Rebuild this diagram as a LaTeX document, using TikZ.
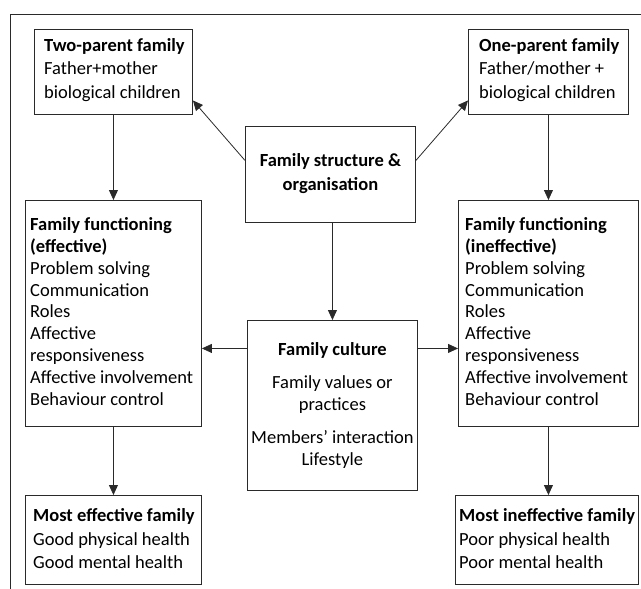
\documentclass[tikz,border=0pt]{standalone}
\usepackage{fontspec}
\setmainfont{Carlito}
\usetikzlibrary{arrows.meta}
\definecolor{ln}{HTML}{2A2A2A}
\tikzset{
  box/.style={draw=ln, line width=0.9pt, rectangle, inner sep=0pt, anchor=north west},
  txt/.style={inner sep=0pt, align=left, font=\fontsize{18.5}{23.5}\selectfont, text=black},
  txtc/.style={inner sep=0pt, align=center, font=\fontsize{18.5}{23.5}\selectfont, text=black},
  arr/.style={draw=ln, line width=0.8pt, -{Triangle[length=10pt,width=9pt]}},
}
\begin{document}
\begin{tikzpicture}[x=1pt,y=-1pt]
\useasboundingbox (0,0) rectangle (641,589);
% frame
\coordinate (f1) at (10,589);
\coordinate (f2) at (10,14);
\coordinate (f3) at (641,14);
\draw[ln, line width=0.8pt] (f1) -- (f2) -- (f3);
% boxes
\node[box, minimum width=158pt, minimum height=85pt] (tp) at (34,29) {};
\node[box, minimum width=160pt, minimum height=85pt] (op) at (468,29) {};
\node[box, minimum width=170pt, minimum height=96pt] (fs) at (245,126) {};
\node[box, minimum width=176pt, minimum height=226pt] (lf) at (25,200) {};
\node[box, minimum width=180pt, minimum height=226pt] (rf) at (458,200) {};
\node[box, minimum width=170pt, minimum height=170pt] (fc) at (247,320) {};
\node[box, minimum width=176pt, minimum height=89pt] (bl) at (25,495) {};
\node[box, minimum width=183pt, minimum height=89pt] (br) at (455,495) {};
% texts
\node[txt, anchor=west] (tpt) at ([xshift=10pt,yshift=2pt]tp.west) {\textbf{Two-parent family}\\Father+mother\\biological children};
\node[txt, anchor=west] (opt) at ([xshift=11pt,yshift=2pt]op.west) {\textbf{One-parent family}\\Father/mother +\\biological children};
\node[txtc] (fst) at ([yshift=1pt]fs.center) {\textbf{Family structure \&}\\\textbf{organisation}};
\node[txt, anchor=west, font=\fontsize{18.5}{21.8}\selectfont] (lft) at ([xshift=5pt,yshift=2pt]lf.west) {\textbf{Family functioning}\\\textbf{(effective)}\\Problem solving\\Communication\\Roles\\Affective\\responsiveness\\Affective involvement\\Behaviour control};
\node[txt, anchor=west, font=\fontsize{18.5}{21.8}\selectfont] (rft) at ([xshift=7pt,yshift=2pt]rf.west) {\textbf{Family functioning}\\\textbf{(ineffective)}\\Problem solving\\Communication\\Roles\\Affective\\responsiveness\\Affective involvement\\Behaviour control};
\node[txtc, font=\fontsize{18.5}{22}\selectfont] (fct) at (fc.center) {\textbf{Family culture}\\[11pt]Family values or\\practices\\[11pt]Members’ interaction\\Lifestyle};
\node[txt, anchor=west] (blt) at ([xshift=8pt,yshift=1pt]bl.west) {\textbf{Most effective family}\\Good physical health\\Good mental health};
\node[txt, anchor=west] (brt) at ([xshift=4pt,yshift=1pt]br.west) {\textbf{Most ineffective family}\\Poor physical health\\Poor mental health};
% arrows
\draw[arr] ([yshift=14pt]fs.west) -- ([yshift=-28.5pt]tp.east);
\draw[arr] ([yshift=14pt]fs.east) -- ([yshift=-28.5pt]op.west);
\draw[arr] (tp.south) -- (tp.south |- lf.north);
\draw[arr] (op.south) -- (op.south |- rf.north);
\draw[arr] (fc.north |- fs.south) -- (fc.north);
\draw[arr] ([yshift=57pt]fc.west) -- ([yshift=57pt]fc.west -| lf.east);
\draw[arr] ([yshift=57pt]fc.east) -- ([yshift=57pt]fc.east -| rf.west);
\draw[arr] (lf.south) -- (lf.south |- bl.north);
\draw[arr] (rf.south) -- (rf.south |- br.north);
\end{tikzpicture}
\end{document}
